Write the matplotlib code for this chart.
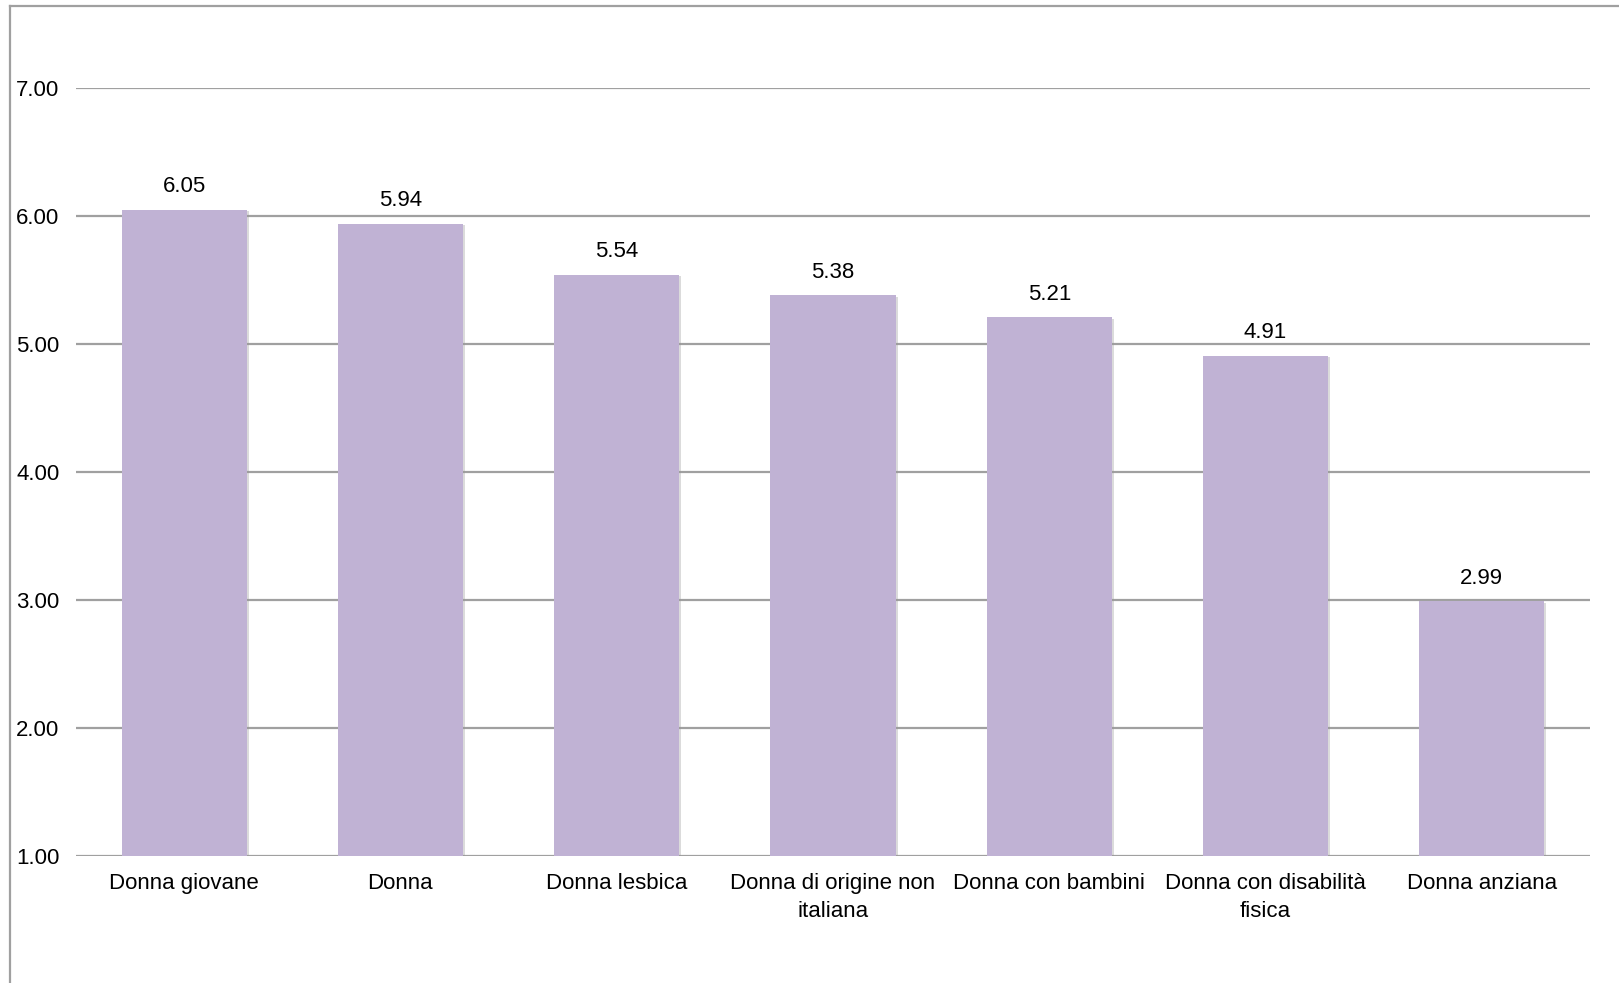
import matplotlib
matplotlib.use("Agg")
import matplotlib.pyplot as plt
from matplotlib.lines import Line2D
import matplotlib.patheffects as pe

categories = ["Donna giovane", "Donna", "Donna lesbica", "Donna di origine non\nitaliana",
              "Donna con bambini", "Donna con disabilità\nfisica", "Donna anziana"]
values = [6.05, 5.94, 5.54, 5.38, 5.21, 4.91, 2.99]
y_ticks = [1, 2, 3, 4, 5, 6, 7]

plt.rcParams['font.family'] = ['Liberation Sans', 'DejaVu Sans']

W, H = 1619, 983
fig = plt.figure(figsize=(W / 100, H / 100), dpi=100)
ax = fig.add_axes([76 / W, 1 - 856 / H, (1590 - 76) / W, (856 - 88) / H])

grid_col = "#a0a0a0"
bar_col = "#c0b2d4"

x = range(len(categories))
bars = ax.bar(x, values, width=0.578, color=bar_col, zorder=3,
              path_effects=[pe.SimplePatchShadow(offset=(1.5, -1), shadow_rgbFace="#999999", alpha=0.35), pe.Normal()])

# value labels above the bars
for xi, v in zip(x, values):
    ax.annotate("%.2f" % v, (xi, v), xytext=(0, 9), textcoords="offset points",
                ha="center", va="bottom", fontsize=16)

ax.set_xlim(-0.5, len(categories) - 0.5)
ax.set_ylim(1, 7)
ax.set_yticks(y_ticks)
ax.set_yticklabels(["%.2f" % t for t in y_ticks])
ax.set_xticks(list(x))
ax.set_xticklabels(categories, linespacing=1.45)
ax.tick_params(axis="y", length=0, pad=12, labelsize=16)
ax.tick_params(axis="x", length=0, pad=12, labelsize=16)

for t in y_ticks:
    ax.axhline(t, color=grid_col, lw=1.6, zorder=1)
for s in ax.spines.values():
    s.set_visible(False)

# outer frame (left and top only)
fig.add_artist(Line2D([9.5 / W, 9.5 / W], [0, 1 - 6 / H], color=grid_col, lw=1.6, transform=fig.transFigure))
fig.add_artist(Line2D([9.5 / W, 1], [1 - 6 / H, 1 - 6 / H], color=grid_col, lw=1.6, transform=fig.transFigure))

fig.savefig("out.png", dpi=100)
